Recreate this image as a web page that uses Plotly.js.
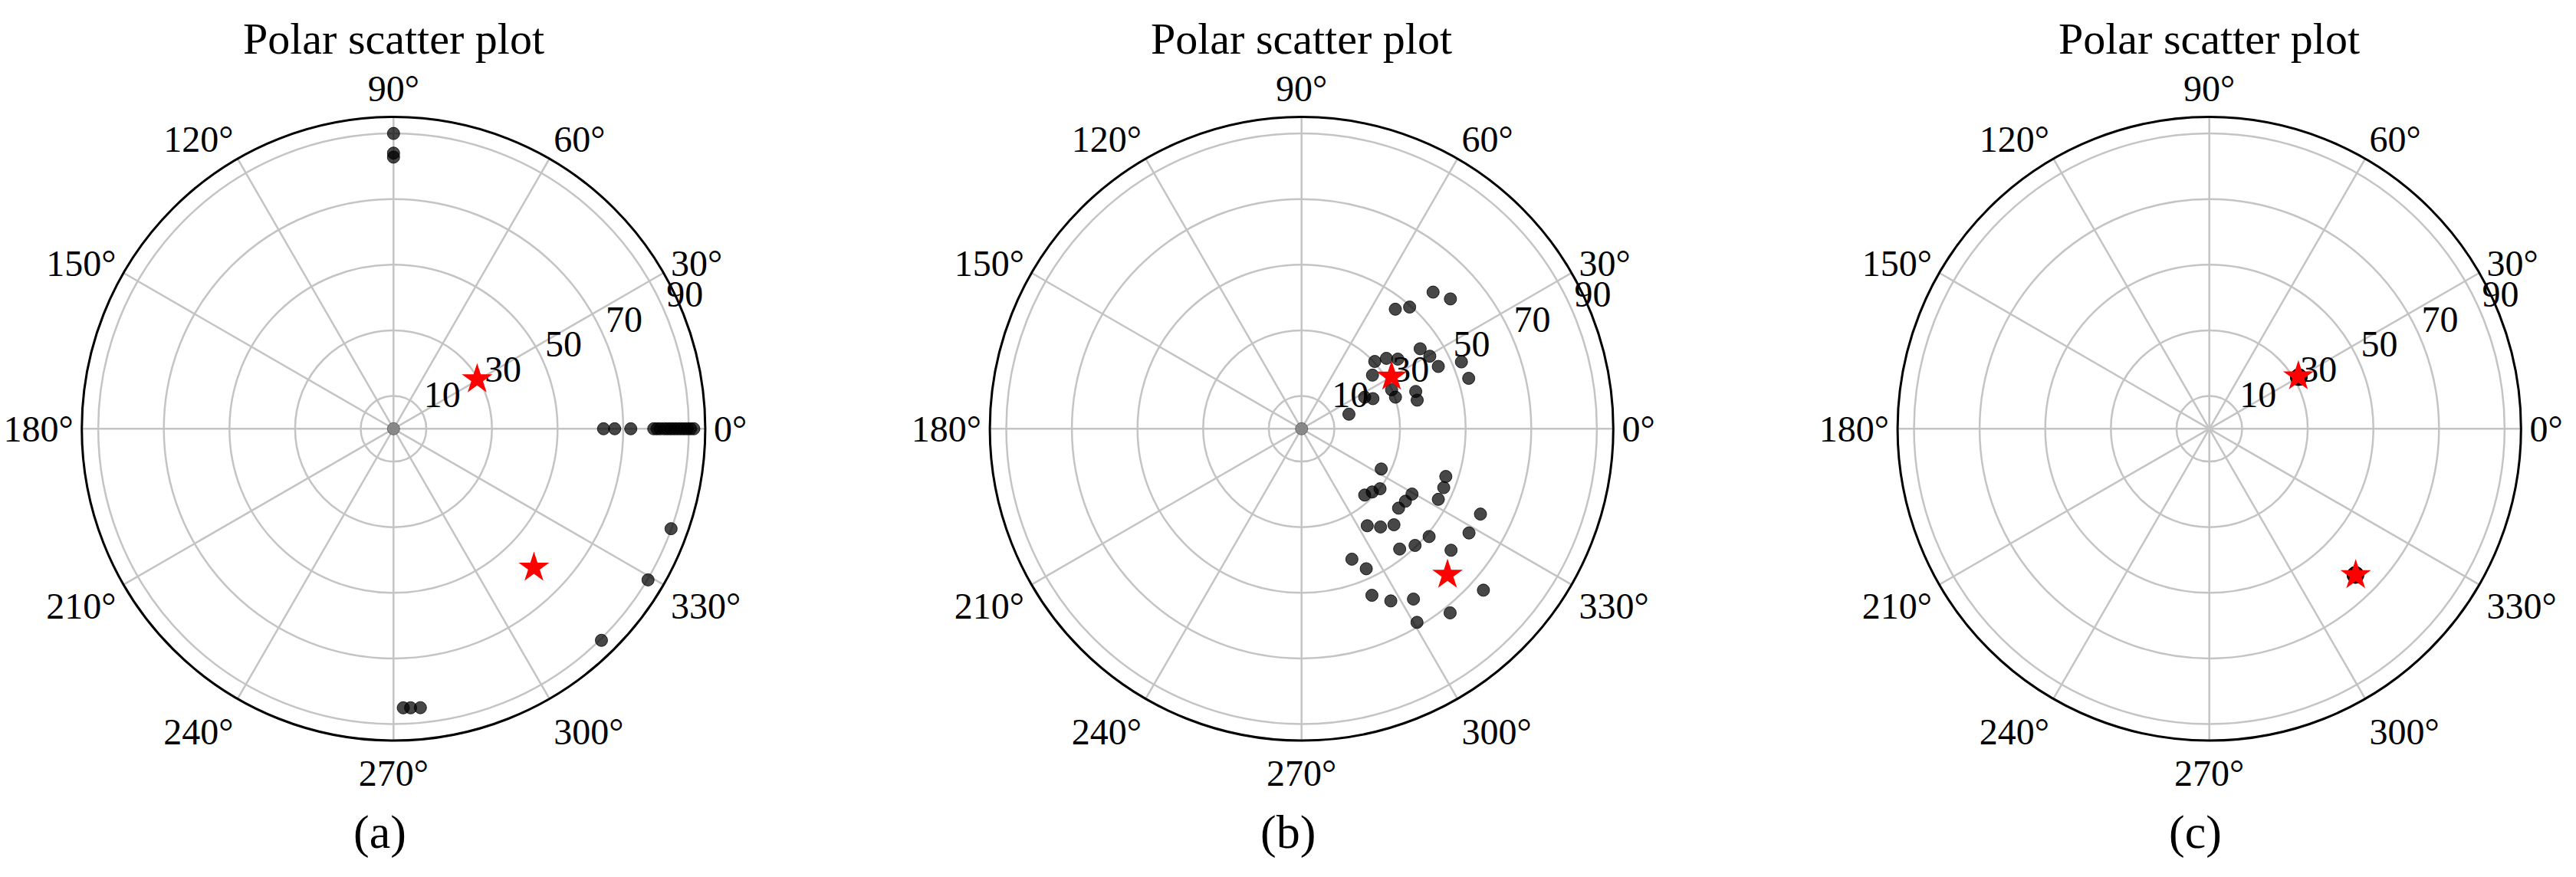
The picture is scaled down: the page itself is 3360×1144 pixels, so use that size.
<!DOCTYPE html>
<html>
<head>
<meta charset="utf-8">
<script src="https://cdn.plot.ly/plotly-3.0.1.min.js"></script>
<style>html,body{margin:0;padding:0;background:#fff;}#chart{width:3360px;height:1144px;}</style>
</head>
<body>
<div id="chart"></div>
<script>
// ---------- data ----------
const angleTicks = [0, 30, 60, 90, 120, 150, 180, 210, 240, 270, 300, 330];
const angleTickText = ["0°", "30°", "60°", "90°", "120°", "150°", "180°", "210°", "240°", "270°", "300°", "330°"];
const radialTicks = [10, 30, 50, 70, 90];
const radialTickText = ["10", "30", "50", "70", "90"];
const panelTitles = ["Polar scatter plot", "Polar scatter plot", "Polar scatter plot"];
const panelLabels = ["(a)", "(b)", "(c)"];

// panel (a) points
const aTheta = [90, 90, 90, 0, 0, 0, 0, 0, 0, 0, 0, 0, 0, 0, 0, 0, 0, 0, 0, 272, 273.5, 275.5, 314.5, 329.3, 340.2];
const aR     = [90, 84, 82.8, 64, 67.4, 72.3, 79.3, 80.3, 81.3, 82.5, 83.5, 84.5, 85.5, 86.5, 87.5, 88.5, 89.5, 90.5, 91.5, 85.1, 85.2, 85.4, 90.4, 90.2, 89.9];
const aStarTheta = [30.6, 315.3];
const aStarR     = [29.6, 60.2];

// panel (b) points
const bTheta = [46.1, 41.1, 51.9, 48.4, 34.0, 29.5, 24.5, 22.7, 16.8, 42.6, 39.7, 35.9, 37.1, 23.4, 18.6, 18.1, 13.9, 22.9, 26.6, 17.1,
                333.2, 313.6, 318.2, 322.6, 341.7, 337.5, 332.7, 329.4, 325.1, 320.7, 304.1, 308.8, 313.9, 334.5, 328.1, 319.8, 314.2, 309.2,
                320.9, 291.1, 294.8, 292.9, 297.4, 303.3, 300.8, 308.9, 318.4];
const bR     = [57.8, 60.2, 46.3, 49.6, 43.6, 44.9, 45.8, 52.8, 53.2, 30.3, 33.6, 36.2, 27.1, 29.9, 30.2, 36.6, 36.3, 23.6, 21.5, 15.1,
                27.2, 27.9, 28.9, 30.1, 46.3, 46.9, 46.9, 39.1, 38.6, 38.2, 35.7, 38.4, 40.6, 60.4, 60.1, 50.9, 49.6, 47.3,
                58.7, 42.6, 47.0, 55.1, 59.1, 62.1, 68.7, 72.1, 74.1];
const bStarTheta = [30.1, 315];
const bStarR     = [31.7, 62.9];

// panel (c) points
const cTheta = [30, 30, 315, 315];
const cR     = [31.5, 31.5, 63, 63];
const cStarTheta = [30.5, 315];
const cStarR     = [31.5, 63.1];

// centre markers (a) and (b)
const centreTheta = [0];
const centreR     = [0];

// ---------- layout helpers ----------
const W = 3360, H = 1144;
const centresX = [513.3, 1697.7, 2881.7];
const centreY = 559.3;
const R = 406.6;
const FONT = "Liberation Serif, Times New Roman, serif";
const RLABEL_ANGLE = 22.5;

function polarLayout(i) {
  const cx = centresX[i];
  return {
    domain: {
      x: [(cx - R) / W, (cx + R) / W],
      y: [(H - centreY - R) / H, (H - centreY + R) / H]
    },
    bgcolor: "#ffffff",
    radialaxis: {
      range: [0, 95],
      tickvals: radialTicks,
      showticklabels: false,
      showline: false,
      ticks: "",
      angle: RLABEL_ANGLE,
      gridcolor: "#c4c4c4",
      gridwidth: 2.5
    },
    angularaxis: {
      tickvals: angleTicks,
      ticktext: angleTickText,
      ticks: "",
      direction: "counterclockwise",
      rotation: 0,
      showline: true,
      linecolor: "#000",
      linewidth: 3,
      gridcolor: "#c4c4c4",
      gridwidth: 2.5,
      tickfont: {family: FONT, size: 48, color: "#000"}
    }
  };
}

const dotMarker = {size: 16, color: "rgba(0,0,0,0.72)", line: {width: 1, color: "rgba(0,0,0,0.8)"}};
const starMarker = {symbol: "star", size: 30, color: "#ff0000", line: {width: 0}};
const centreMarker = {size: 16, color: "rgba(120,120,120,0.8)", line: {width: 1, color: "rgba(80,80,80,0.8)"}};

const traces = [];
const sets = [
  [aTheta, aR, aStarTheta, aStarR, true],
  [bTheta, bR, bStarTheta, bStarR, true],
  [cTheta, cR, cStarTheta, cStarR, false]
];
sets.forEach((s, i) => {
  const sub = i === 0 ? "polar" : "polar" + (i + 1);
  // radial tick labels, placed beside the tick positions along the label angle
  traces.push({type: "scatterpolar", mode: "text", r: radialTicks, theta: radialTicks.map(() => RLABEL_ANGLE),
               text: radialTickText, textposition: "top right", subplot: sub, cliponaxis: false,
               textfont: {family: FONT, size: 48, color: "#000"}, showlegend: false, hoverinfo: "skip"});
  traces.push({type: "scatterpolar", mode: "markers", theta: s[0], r: s[1], subplot: sub,
               marker: i === 2 ? Object.assign({}, dotMarker, {size: 22}) : dotMarker, showlegend: false, cliponaxis: false});
  if (s[4]) traces.push({type: "scatterpolar", mode: "markers", theta: centreTheta, r: centreR, subplot: sub,
               marker: centreMarker, showlegend: false});
  traces.push({type: "scatterpolar", mode: "markers", theta: s[2], r: s[3], subplot: sub,
               marker: starMarker, showlegend: false, cliponaxis: false});
});

const annotations = [];
centresX.forEach((cx, i) => {
  annotations.push({text: panelTitles[i], xref: "paper", yref: "paper", x: cx / W, y: 1 - 50.4 / H,
                    xanchor: "center", yanchor: "middle", showarrow: false,
                    font: {family: FONT, size: 58, color: "#000"}});
  annotations.push({text: panelLabels[i], xref: "paper", yref: "paper", x: (cx - 18) / W, y: 1 - 1085 / H,
                    xanchor: "center", yanchor: "middle", showarrow: false,
                    font: {family: FONT, size: 62, color: "#000"}});
});

const layout = {
  width: W, height: H,
  margin: {l: 0, r: 0, t: 0, b: 0, pad: 0},
  paper_bgcolor: "#ffffff",
  showlegend: false,
  polar: polarLayout(0),
  polar2: polarLayout(1),
  polar3: polarLayout(2),
  annotations: annotations
};

Plotly.newPlot("chart", traces, layout, {staticPlot: true, displayModeBar: false});
</script>
</body>
</html>
